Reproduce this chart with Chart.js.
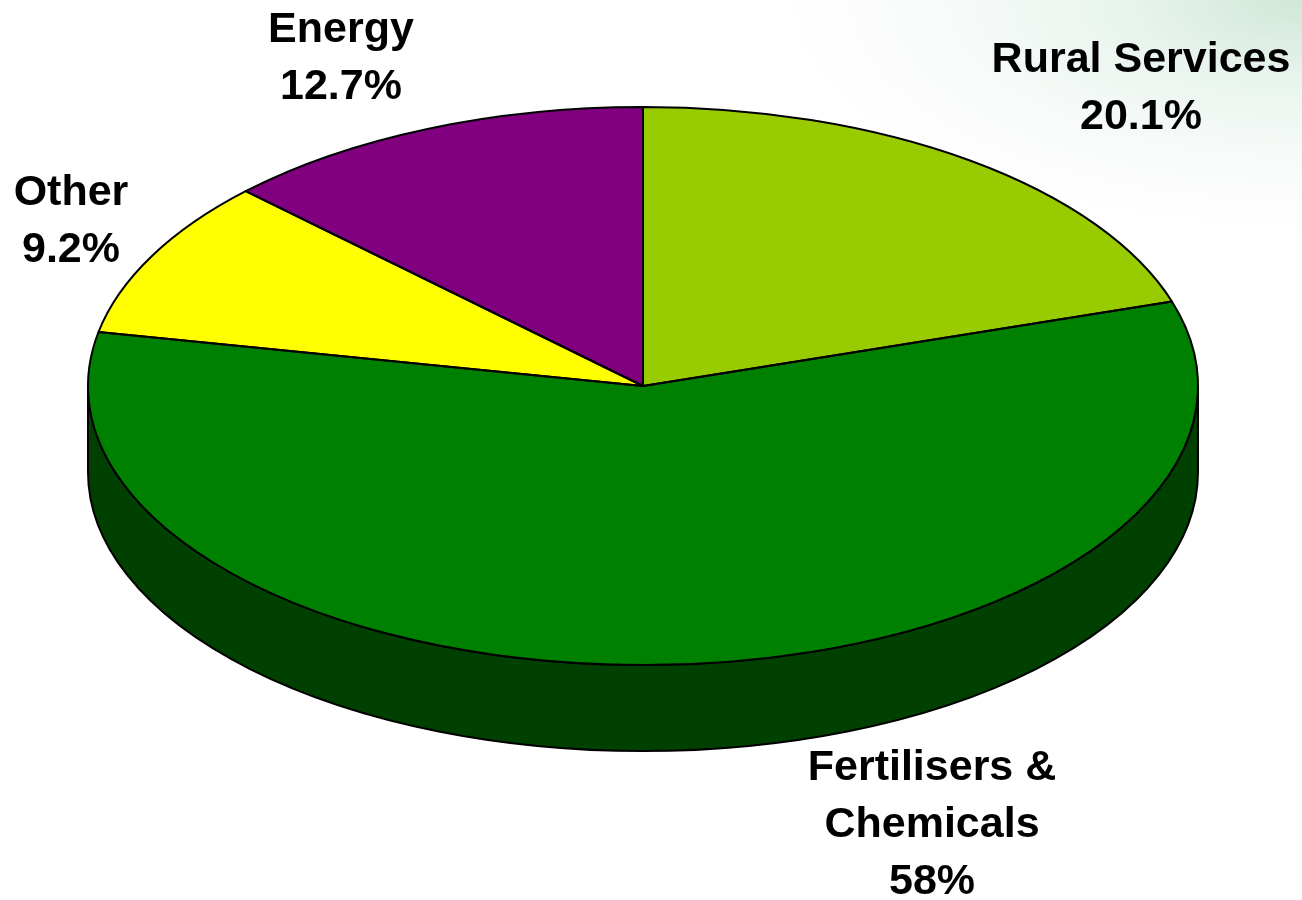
<!DOCTYPE html>
<html>
<head>
<meta charset="utf-8">
<script src="https://cdn.jsdelivr.net/npm/chart.js@4.4.0/dist/chart.umd.min.js"></script>
<style>
html, body { margin: 0; padding: 0; }
body {
    width: 1302px; height: 900px; overflow: hidden;
    background: radial-gradient(ellipse 520px 230px at 1302px 0px, #cfe7d8 0%, #e9f4ee 35%, #f8fbf9 70%, #ffffff 100%);
}
canvas { display: block; }
</style>
</head>
<body>
<canvas id="pieChart" width="1302" height="900"></canvas>
<script>
// data
const categories = ['Rural Services', 'Fertilisers & Chemicals', 'Other', 'Energy'];
const shares = [20.1, 58, 9.2, 12.7];
const labelLines = [['Rural Services'], ['Fertilisers &', 'Chemicals'], ['Other'], ['Energy']];
const valueLabels = ['20.1%', '58%', '9.2%', '12.7%'];

// styles
const topColors = ['#99cc00', '#008000', '#ffff00', '#800080'];
const sideColors = ['#4d6600', '#004000', '#808000', '#400040'];

// 3d look: ellipse radii of the top face and the wall depth
const RX = 555, RY = 279, DEPTH = 86;
// label anchors (centre of first line)
const labelAnchors = [[1141, 60], [932, 768], [71, 193], [341, 30]];
const LINE_H = 57;

const pie3d = {
    id: 'pie3d',
    beforeDatasetsDraw(chart) {
        const ctx = chart.ctx;
        const arcs = chart.getDatasetMeta(0).data;
        const cx = arcs[0].x, cy = arcs[0].y, R = arcs[0].outerRadius;
        // side wall, only the front half (0..PI) shows
        arcs.forEach((arc, i) => {
            const s = Math.max(arc.startAngle, 0);
            const e = Math.min(arc.endAngle, Math.PI);
            if (e <= s) return;
            ctx.beginPath();
            ctx.ellipse(cx, cy, RX, RY, 0, s, e);
            ctx.lineTo(cx + RX * Math.cos(e), cy + RY * Math.sin(e) + DEPTH);
            ctx.ellipse(cx, cy + DEPTH, RX, RY, 0, e, s, true);
            ctx.closePath();
            ctx.fillStyle = sideColors[i];
            ctx.fill();
            ctx.lineWidth = 2;
            ctx.strokeStyle = '#000';
            ctx.lineJoin = 'round';
            ctx.stroke();
        });
        // squash the pie into an ellipse
        ctx.save();
        ctx.translate(cx, cy);
        ctx.scale(RX / R, RY / R);
        ctx.translate(-cx, -cy);
    },
    afterDatasetsDraw(chart) {
        const ctx = chart.ctx;
        ctx.restore();
        const arcs = chart.getDatasetMeta(0).data;
        const cx = arcs[0].x, cy = arcs[0].y;
        ctx.lineWidth = 2;
        ctx.strokeStyle = '#000';
        ctx.lineJoin = 'round';
        arcs.forEach(arc => {
            ctx.beginPath();
            ctx.moveTo(cx, cy);
            ctx.ellipse(cx, cy, RX, RY, 0, arc.startAngle, arc.endAngle);
            ctx.closePath();
            ctx.stroke();
        });
    },
    afterDraw(chart) {
        const ctx = chart.ctx;
        ctx.save();
        ctx.font = 'bold 43px "Liberation Sans", Arial, sans-serif';
        ctx.fillStyle = '#000';
        ctx.textAlign = 'center';
        ctx.textBaseline = 'middle';
        categories.forEach((c, i) => {
            const lines = labelLines[i].concat([valueLabels[i]]);
            lines.forEach((t, j) => {
                ctx.fillText(t, labelAnchors[i][0], labelAnchors[i][1] + j * LINE_H);
            });
        });
        ctx.restore();
    }
};

const ctx = document.getElementById('pieChart').getContext('2d');
window.myChart = new Chart(ctx, {
    type: 'pie',
    data: {
        labels: categories,
        datasets: [{
            data: shares,
            backgroundColor: topColors,
            borderWidth: 0,
            clip: false
        }]
    },
    options: {
        responsive: false,
        animation: false,
        events: [],
        layout: {
            padding: { left: 343, right: 359, top: 86, bottom: 214 }
        },
        plugins: {
            legend: { display: false },
            tooltip: { enabled: false }
        }
    },
    plugins: [pie3d]
});
</script>
</body>
</html>
